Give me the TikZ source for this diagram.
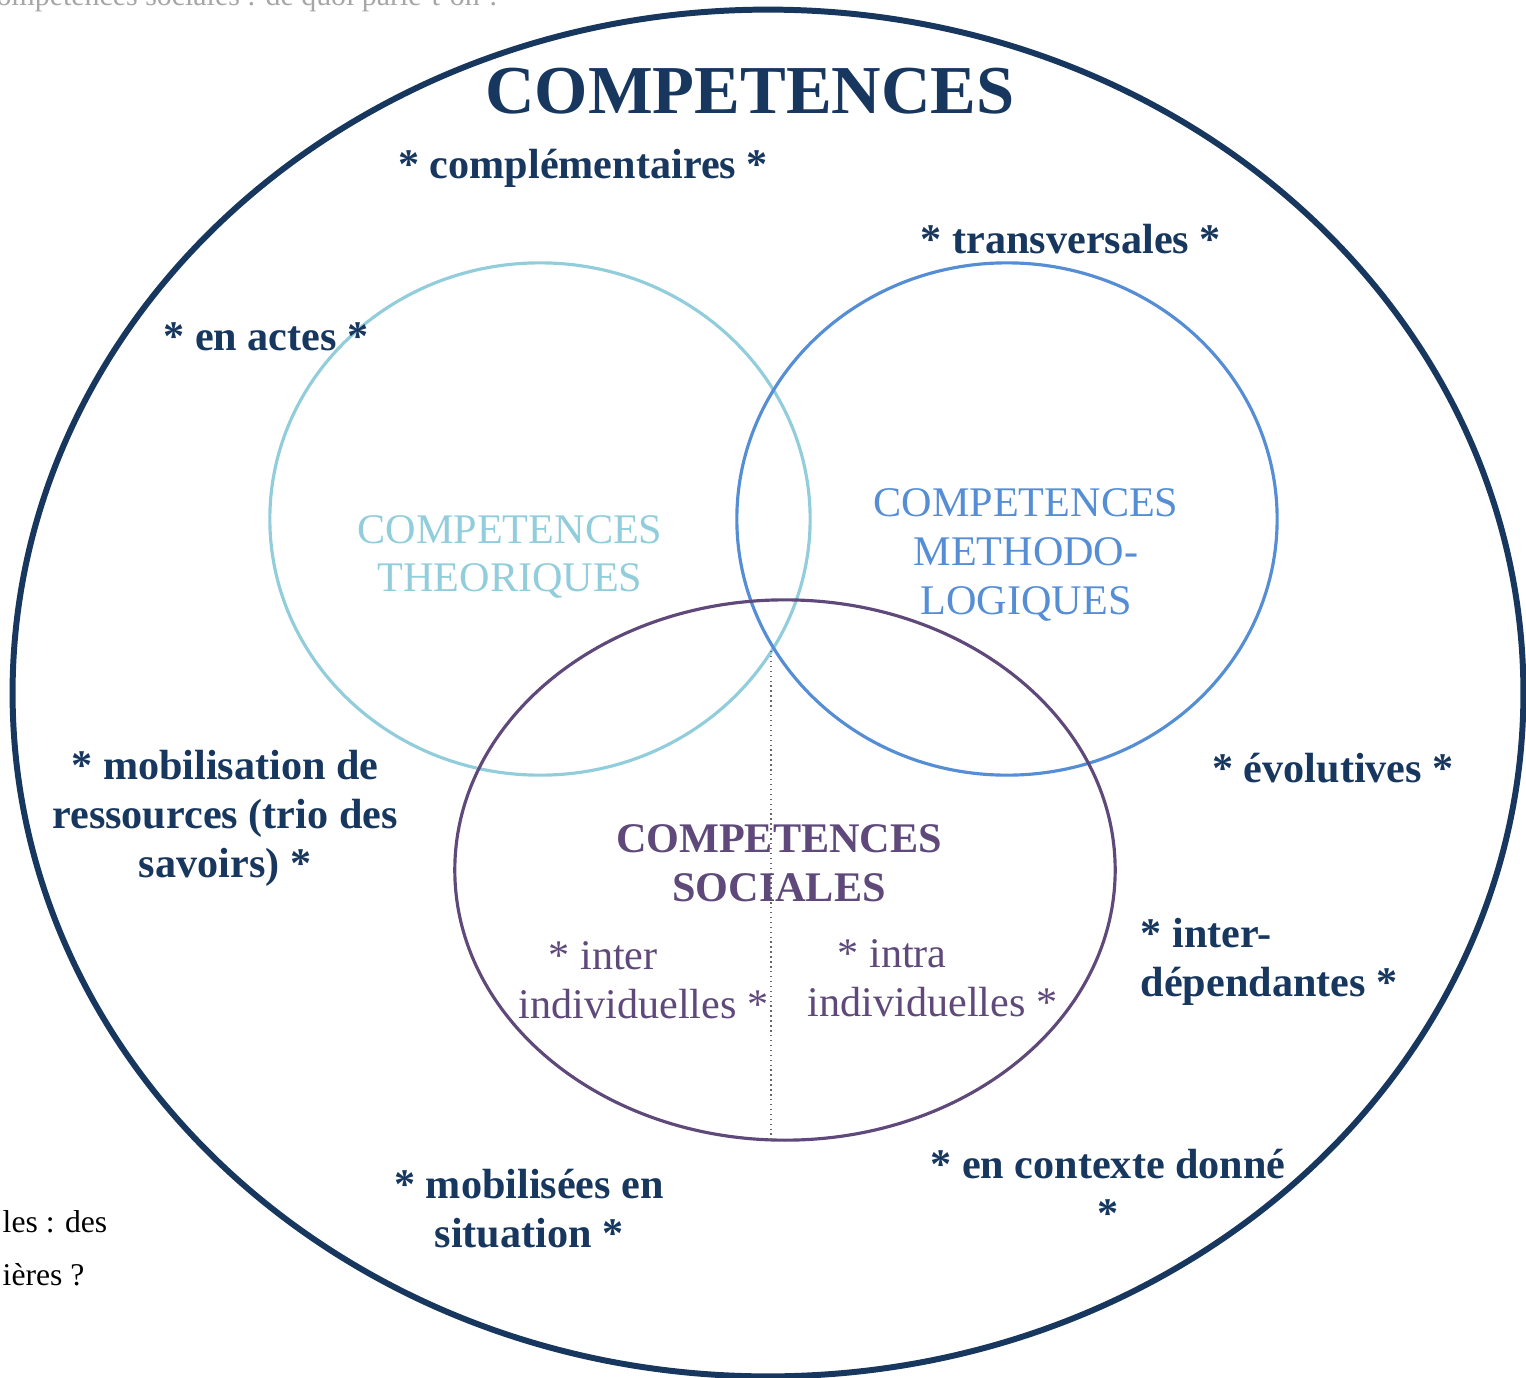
\documentclass[tikz,border=0pt]{standalone}
\usepackage{fontspec}
\setmainfont{Liberation Serif}
\usepackage{xcolor}
\usetikzlibrary{positioning}
\definecolor{outcol}{HTML}{17375E}
\definecolor{theocol}{HTML}{92CDDC}
\definecolor{methcol}{HTML}{558ED5}
\definecolor{soccol}{HTML}{5F497A}
\tikzset{
  motcle/.style={font=\bfseries\fontsize{12}{13.9}\selectfont, text=outcol, align=center, inner sep=0pt},
  domaine/.style={font=\fontsize{12}{13.9}\selectfont, align=center, inner sep=0pt},
  bord/.style={font=\fontsize{9}{11}\selectfont, inner sep=0pt}
}

\begin{document}
\begin{tikzpicture}[x=0.01cm, y=-0.01cm]
\useasboundingbox (0, 0) rectangle (1526, 1378);
% bouts de texte de la page
\node [bord, anchor=base west, text=black!35, font=\fontsize{8.5}{10}\selectfont] (entete) at (-4, 5) {ompetences sociales : de quoi parle-t-on ?};
\node [bord, anchor=base west] (bas1) at (2, 1232) {les : des};
\node [bord, anchor=base west] (bas2) at (2, 1285) {ières ?};
% les ensembles
\draw [outcol, line width=1.7pt] (768, 693) ellipse [x radius=7.55cm, y radius=6.83cm];
\draw [theocol, line width=0.9pt] (540, 519) ellipse [x radius=2.70cm, y radius=2.56cm];
\draw [methcol, line width=0.9pt] (1007, 519) ellipse [x radius=2.70cm, y radius=2.56cm];
\draw [soccol, line width=0.9pt] (785, 870) ellipse [x radius=3.30cm, y radius=2.70cm];
\coordinate (haut) at (771, 651);
\coordinate (bas) at (771, 1140);
\draw [black!60, line width=0.4pt, densely dotted] (haut) -- (bas);
% titres
\node [motcle, anchor=base, font=\bfseries\fontsize{19.5}{22}\selectfont] (titre) at (750, 113) {COMPETENCES};
\node [domaine, text=theocol] (theo) at (510, 557) {COMPETENCES\\THEORIQUES};
\node [domaine, text=methcol] (meth) at (1026, 555) {COMPETENCES\\METHODO-\\LOGIQUES};
\node [motcle, text=soccol] (soc) at (779, 863) {COMPETENCES\\SOCIALES};
\node [domaine, text=soccol, anchor=west, align=left] (inter) at (518, 980) {\hspace{0.3cm}* inter\\individuelles *};
\node [domaine, text=soccol, anchor=west, align=left] (intra) at (807, 978) {\hspace{0.3cm}* intra\\individuelles *};
% qualificatifs
\node [motcle, anchor=base] (compl) at (583, 178) {* complémentaires *};
\node [motcle, anchor=base] (trans) at (1071, 253) {* transversales *};
\node [motcle, anchor=base] (actes) at (266, 350) {* en actes *};
\node [motcle, anchor=base] (evol) at (1333, 782) {* évolutives *};
\node [motcle] (mobil) at (225, 818) {* mobilisation de\\ressources (trio des\\savoirs) *};
\node [motcle, anchor=west, align=left] (interdep) at (1140, 962) {* inter-\\dépendantes *};
\node [motcle] (situ) at (529, 1209) {* mobilisées en\\situation *};
\node [motcle] (contexte) at (1108, 1188) {* en contexte donné\\*};
\end{tikzpicture}
\end{document}
